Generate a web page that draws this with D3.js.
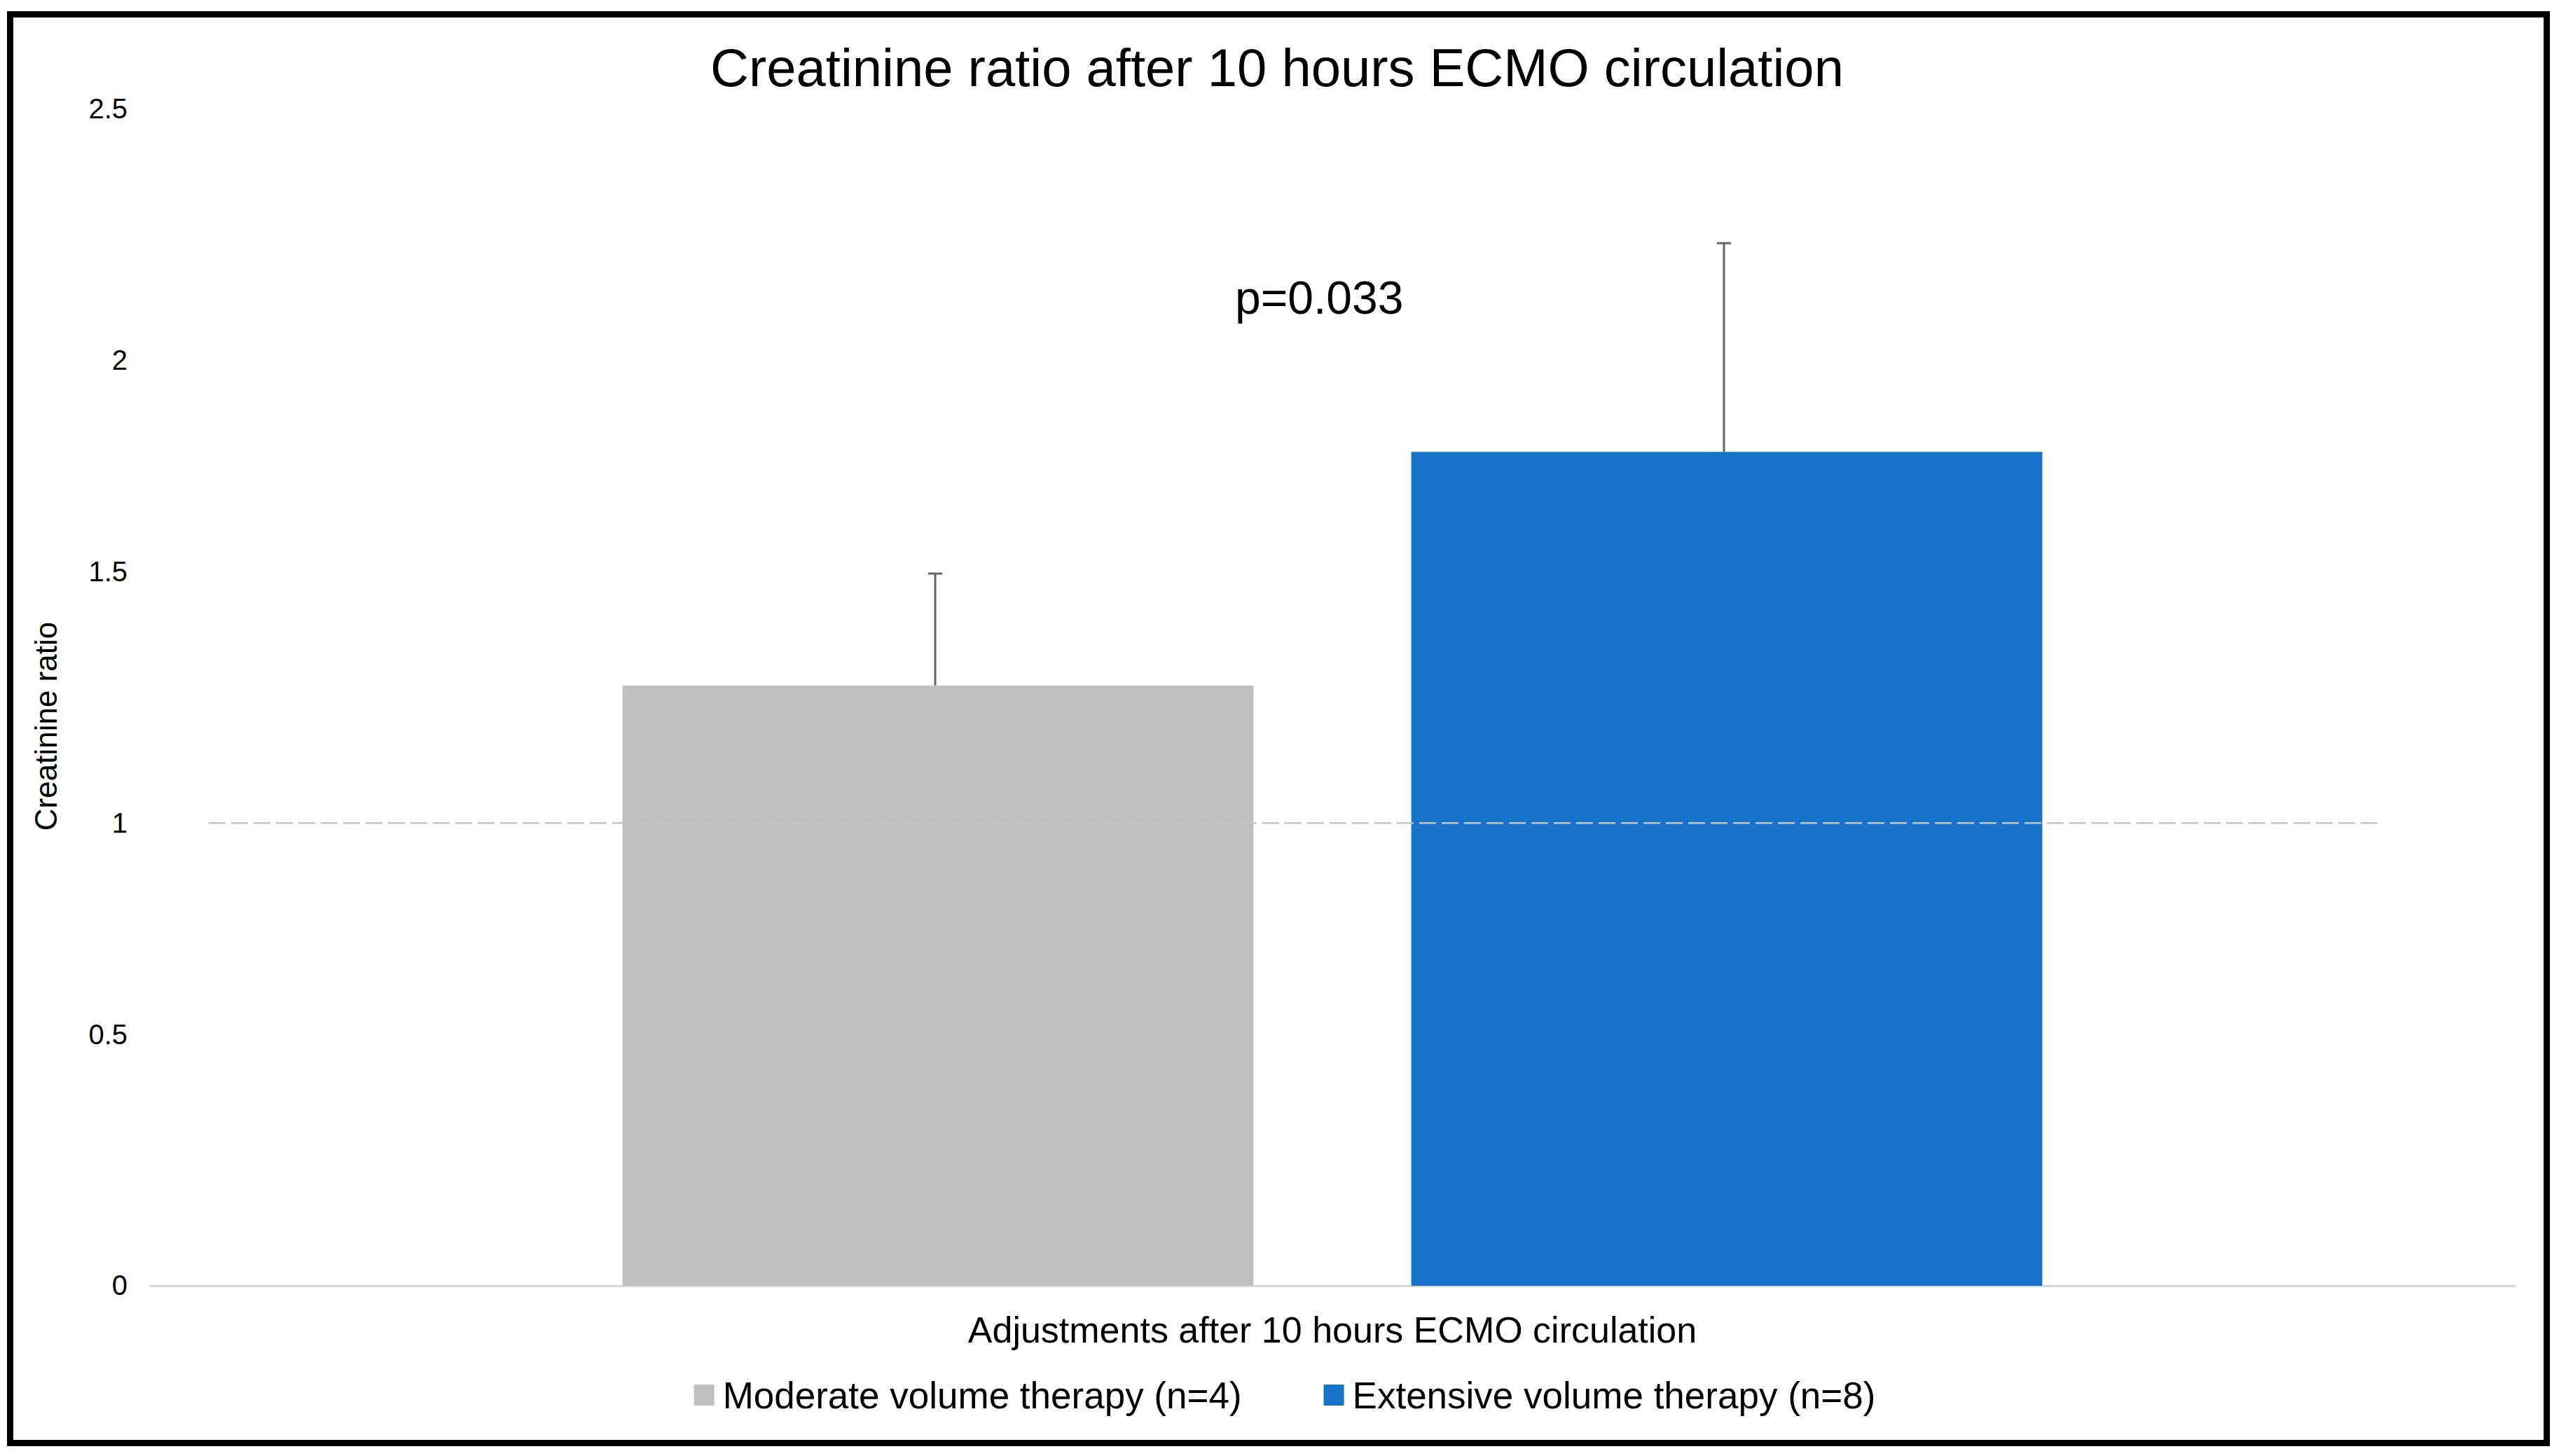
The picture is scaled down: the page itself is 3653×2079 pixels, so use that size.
<!DOCTYPE html>
<html>
<head>
<meta charset="utf-8">
<script src="https://cdn.jsdelivr.net/npm/d3@7"></script>
<style>
  body { margin: 0; background: #fff; }
  text { font-family: "Liberation Sans", Arial, sans-serif; }
</style>
</head>
<body>
<div id="chart-area"></div>
<script>
// DATA
const groups = ['Moderate volume therapy (n=4)', 'Extensive volume therapy (n=8)']
const means = [1.297, 1.802]
const errors = [0.242, 0.451]
const colors = ['#bfbfbf', '#1874cb']
const yTicks = [0, 0.5, 1, 1.5, 2, 2.5]
const refValue = 1
const pLabel = 'p=0.033'

const W = 3653
const H = 2079
const PLOT = { LEFT: 213, RIGHT: 3591, TOP: 184, BOTTOM: 1836 }

const svg = d3.select('#chart-area').append('svg')
  .attr('width', W)
  .attr('height', H)

svg.append('rect')
  .attr('width', W)
  .attr('height', H)
  .attr('fill', '#fff')

// frame
svg.append('rect')
  .attr('x', 14.5)
  .attr('y', 20.5)
  .attr('width', 3621)
  .attr('height', 2040)
  .attr('fill', 'none')
  .attr('stroke', '#000')
  .attr('stroke-width', 9)

// SCALES
const y = d3.scaleLinear()
  .domain([0, 2.5])
  .range([PLOT.BOTTOM, PLOT.TOP])
const x = d3.scaleBand()
  .domain(groups)
  .range([PLOT.LEFT, PLOT.RIGHT])
  .paddingInner(0.2)
  .paddingOuter(0.6)

// AXES
const yAxis = d3.axisLeft(y)
  .tickValues(yTicks)
  .tickFormat(d => String(d))
  .tickSize(0)
  .tickPadding(0)
const yG = svg.append('g')
  .attr('transform', 'translate(182, 0)')
  .call(yAxis)
yG.select('.domain').remove()
// the half-step labels sit a little high in the original
yG.selectAll('text')
  .attr('font-size', '40px')
  .attr('fill', '#000')
  .attr('dy', d => d % 1 ? '-0.38em' : '0.32em')
  .style('font-family', '"Liberation Sans", Arial, sans-serif')

const xAxis = d3.axisBottom(x)
  .tickSize(0)
  .tickFormat('')
const xG = svg.append('g')
  .attr('transform', `translate(0, ${PLOT.BOTTOM})`)
  .call(xAxis)
xG.select('.domain')
  .attr('stroke', '#d9d9d9')
  .attr('stroke-width', 3)

// BARS
svg.selectAll('rect.bar')
  .data(groups)
  .enter().append('rect')
  .attr('class', 'bar')
  .attr('x', d => x(d))
  .attr('y', (d, i) => y(means[i]))
  .attr('width', x.bandwidth())
  .attr('height', (d, i) => y(0) - y(means[i]))
  .attr('fill', (d, i) => colors[i])

// ERROR BARS (upper only)
const eb = svg.selectAll('g.err')
  .data(groups)
  .enter().append('g')
  .attr('class', 'err')
  .attr('stroke', '#666')
  .attr('stroke-width', 3)
eb.append('line')
  .attr('x1', d => x(d) + x.bandwidth() / 2 - 4)
  .attr('x2', d => x(d) + x.bandwidth() / 2 - 4)
  .attr('y1', (d, i) => y(means[i]))
  .attr('y2', (d, i) => y(means[i] + errors[i]))
eb.append('line')
  .attr('x1', d => x(d) + x.bandwidth() / 2 - 14)
  .attr('x2', d => x(d) + x.bandwidth() / 2 + 6)
  .attr('y1', (d, i) => y(means[i] + errors[i]))
  .attr('y2', (d, i) => y(means[i] + errors[i]))

// reference line at 1
svg.append('line')
  .attr('x1', 298)
  .attr('x2', 3396)
  .attr('y1', y(refValue))
  .attr('y2', y(refValue))
  .attr('stroke', '#c4c4c4')
  .attr('stroke-width', 2.5)
  .attr('stroke-dasharray', '24 8')

// LABELS
svg.append('text')
  .attr('x', 1823)
  .attr('y', 123)
  .attr('font-size', '76px')
  .attr('text-anchor', 'middle')
  .text('Creatinine ratio after 10 hours ECMO circulation')

svg.append('text')
  .attr('x', 1763)
  .attr('y', 448)
  .attr('font-size', '66px')
  .text(pLabel)

svg.append('text')
  .attr('x', (PLOT.LEFT + PLOT.RIGHT) / 2)
  .attr('y', 1917)
  .attr('font-size', '52px')
  .attr('text-anchor', 'middle')
  .text('Adjustments after 10 hours ECMO circulation')

svg.append('text')
  .attr('transform', 'translate(81, 1037) rotate(-90)')
  .attr('font-size', '44px')
  .attr('text-anchor', 'middle')
  .text('Creatinine ratio')

// LEGEND
const legend = svg.append('g')
let lx = 0
groups.forEach((g, i) => {
  const item = legend.append('g').attr('transform', `translate(${lx}, 0)`)
  item.append('rect')
    .attr('x', 0)
    .attr('y', 1977)
    .attr('width', 29)
    .attr('height', 30)
    .attr('fill', colors[i])
  const t = item.append('text')
    .attr('x', 41)
    .attr('y', 2011)
    .attr('font-size', '53px')
    .text(g)
  lx += 41 + t.node().getComputedTextLength() + 117
})
const lw = lx - 117
legend.attr('transform', `translate(${1834 - lw / 2}, 0)`)
</script>
</body>
</html>
